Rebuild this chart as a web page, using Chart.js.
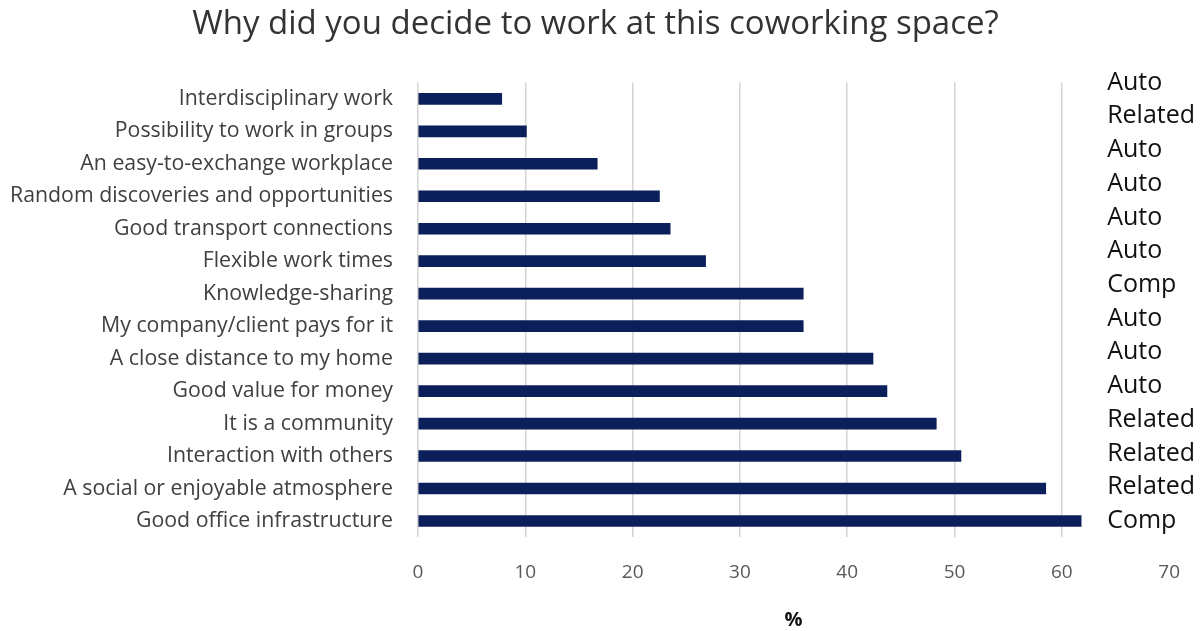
<!DOCTYPE html>
<html lang="en">
<head>
  <meta charset="UTF-8">
  <title>Why did you decide to work at this coworking space?</title>
  <script src="https://cdn.jsdelivr.net/npm/chart.js"></script>
  <style>
    * {
      margin: 0;
      padding: 0;
      box-sizing: border-box;
    }
    body {
      background: #ffffff;
      width: 1204px;
      height: 631px;
      overflow: hidden;
    }
  </style>
</head>
<body>
  <canvas id="reasonChart" width="1204" height="631"></canvas>

  <script>
    const reasons = [
      "Interdisciplinary work",
      "Possibility to work in groups",
      "An easy-to-exchange workplace",
      "Random discoveries and opportunities",
      "Good transport connections",
      "Flexible work times",
      "Knowledge-sharing",
      "My company/client pays for it",
      "A close distance to my home",
      "Good value for money",
      "It is a community",
      "Interaction with others",
      "A social or enjoyable atmosphere",
      "Good office infrastructure"
    ];
    const percent = [7.8, 10.1, 16.7, 22.5, 23.5, 26.8, 35.9, 35.9, 42.4, 43.7, 48.3, 50.6, 58.5, 61.8];
    const groupLabels = ["Auto", "Related", "Auto", "Auto", "Auto", "Auto", "Comp",
                         "Auto", "Auto", "Auto", "Related", "Related", "Related", "Comp"];
    const xTicks = [0, 10, 20, 30, 40, 50, 60, 70];

    const font = "'Open Sans', sans-serif";

    // the Auto / Related / Comp column on the right, spread from the top of the plot to the last bar
    const groupColumn = {
      id: 'groupColumn',
      afterDraw(chart) {
        const { ctx, chartArea } = chart;
        const yScale = chart.scales.y;
        const top = chartArea.top;
        const bottom = yScale.getPixelForValue(groupLabels.length - 1);
        const step = (bottom - top) / (groupLabels.length - 1);
        ctx.save();
        ctx.font = "25px " + font;
        ctx.fillStyle = '#111111';
        ctx.textAlign = 'left';
        ctx.textBaseline = 'middle';
        groupLabels.forEach((txt, i) => {
          ctx.fillText(txt, chartArea.right - 62, top + i * step);
        });
        ctx.restore();
      }
    };

    const ctx = document.getElementById("reasonChart").getContext("2d");

    new Chart(ctx, {
      type: 'bar',
      data: {
        labels: reasons,
        datasets: [{
          label: '%',
          data: percent,
          backgroundColor: '#0b1f5b',
          barThickness: 11
        }]
      },
      options: {
        indexAxis: 'y',
        responsive: false,
        animation: false,
        layout: {
          padding: { left: 10, right: 23, top: 0, bottom: 0 }
        },
        plugins: {
          legend: { display: false },
          tooltip: { enabled: false },
          title: {
            display: true,
            text: 'Why did you decide to work at this coworking space?',
            color: '#333333',
            font: { family: font, size: 33, weight: 'normal' },
            padding: { top: 5, bottom: 38 }
          }
        },
        scales: {
          x: {
            min: 0,
            max: 70,
            afterBuildTicks: scale => { scale.ticks = xTicks.map(v => ({ value: v })); },
            grid: {
              color: c => (c.tick && c.tick.value === 70) ? 'rgba(0,0,0,0)' : '#d4d4d4',
              lineWidth: 1.5,
              drawTicks: false
            },
            border: { display: false },
            ticks: {
              color: '#595959',
              font: { family: font, size: 19 },
              padding: 24
            },
            title: {
              display: true,
              text: '%',
              color: '#111111',
              font: { family: font, size: 20, weight: 'bold', lineHeight: 1 },
              padding: { top: 2, bottom: 1 }
            }
          },
          y: {
            // the fit counts the tick padding twice; take one back so the labels reach the left edge
            afterFit: scale => { scale.width -= scale.options.ticks.padding; },
            grid: { display: false, drawTicks: false },
            border: { display: false },
            ticks: {
              color: '#404040',
              font: { family: font, size: 21.3 },
              padding: 25
            }
          }
        }
      },
      plugins: [groupColumn]
    });
  </script>
</body>
</html>
